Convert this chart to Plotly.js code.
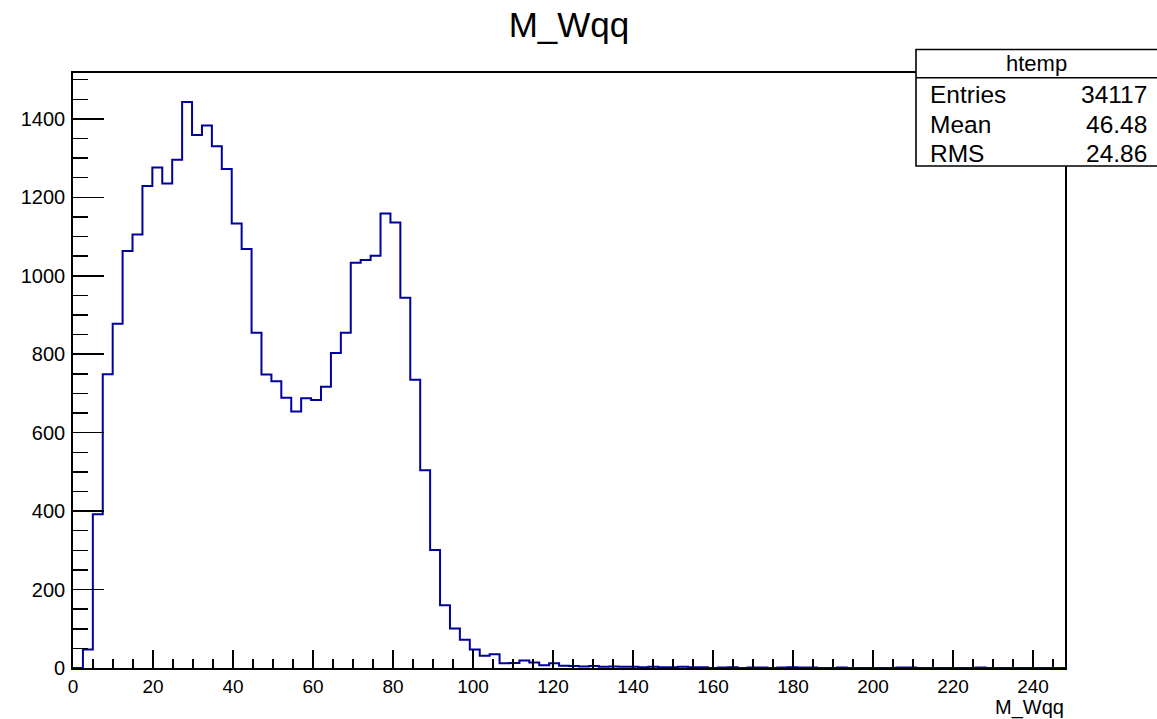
<!DOCTYPE html>
<html><head><meta charset="utf-8">
<script src="https://cdn.plot.ly/plotly-3.0.1.min.js"></script>
<style>html,body{margin:0;padding:0;background:#fff}#chart{width:1157px;height:719px}</style>
</head><body><div id="chart"></div>
<script>
// Histogram bin contents (100 bins from xMin to xMax)
const binCounts = [
  0, 47, 392, 749, 878, 1063, 1105, 1229, 1276, 1235,
  1296, 1443, 1359, 1383, 1330, 1272, 1133, 1068, 855, 748,
  731, 689, 654, 688, 683, 717, 803, 855, 1033, 1040,
  1051, 1159, 1136, 944, 735, 504, 301, 160, 101, 72,
  47, 31, 35, 12, 13, 19, 14, 7, 12, 6,
  5, 4, 5, 3, 4, 3, 3, 2, 3, 2,
  2, 3, 2, 2, 0, 1, 2, 0, 1, 1,
  0, 1, 2, 1, 1, 0, 0, 1, 0, 0,
  0, 0, 0, 1, 1, 0, 0, 0, 0, 0,
  0, 1, 0, 0, 0, 0, 0, 0, 0, 0
];
const xMin = 0, xMax = 248;
const yMax = 1517;
const chartTitle = 'M_Wqq';
const xAxisTitle = 'M_Wqq';
const statsTitle = 'htemp';
const statsLabels = ['Entries', 'Mean', 'RMS'];
const statsValues = ['34117', '46.48', '24.86'];
const xTickVals = [0, 20, 40, 60, 80, 100, 120, 140, 160, 180, 200, 220, 240];
const yTickVals = [0, 200, 400, 600, 800, 1000, 1200, 1400];

const nBins = binCounts.length;
const w = (xMax - xMin) / nBins;
const xs = [], ys = [];
for (let i = 0; i < nBins; i++) { xs.push(xMin + i * w); ys.push(binCounts[i]); }
xs.push(xMax); ys.push(binCounts[nBins - 1]);

const W = 1157, H = 719;
const M = {l: 73, r: 92, t: 73, b: 51};
const pw = W - M.l - M.r, ph = H - M.t - M.b;
const px = x => (x - M.l) / pw;
const py = y => (H - M.b - y) / ph;

const FONT = 'Liberation Sans, Arial, Helvetica, sans-serif';

const trace = {
  type: 'scatter', mode: 'lines', x: xs, y: ys,
  line: {shape: 'hv', color: '#00009c', width: 2},
  hoverinfo: 'x+y', showlegend: false
};

const shapes = [
  {type: 'rect', xref: 'paper', yref: 'paper', x0: px(916), x1: px(1170), y0: py(166), y1: py(49.5),
   fillcolor: '#ffffff', line: {color: '#000', width: 1.6}, layer: 'above'},
  {type: 'line', xref: 'paper', yref: 'paper', x0: px(916), x1: px(1170), y0: py(77.7), y1: py(77.7),
   line: {color: '#000', width: 1.6}, layer: 'above'}
];

const annotations = [
  {xref: 'paper', yref: 'paper', x: px(1036), y: py(63.5), text: statsTitle, showarrow: false,
   xanchor: 'center', yanchor: 'middle', font: {family: FONT, size: 22, color: '#000'}},
  {xref: 'paper', yref: 'paper', x: 1, y: py(707), text: xAxisTitle, showarrow: false, borderpad: 0,
   xanchor: 'right', yanchor: 'middle', font: {family: FONT, size: 20, color: '#000'}}
];
const rowY = [95, 124, 153];
statsLabels.forEach((lab, i) => {
  annotations.push({xref: 'paper', yref: 'paper', x: px(928), y: py(rowY[i]), text: lab, showarrow: false,
    xanchor: 'left', yanchor: 'middle', font: {family: FONT, size: 24.5, color: '#000'}});
  annotations.push({xref: 'paper', yref: 'paper', x: px(1149), y: py(rowY[i]), text: statsValues[i], showarrow: false,
    xanchor: 'right', yanchor: 'middle', font: {family: FONT, size: 24.5, color: '#000'}});
});

const layout = {
  width: W, height: H,
  margin: M,
  paper_bgcolor: '#fff', plot_bgcolor: '#fff',
  title: {text: chartTitle, x: 0.5, xref: 'paper', xanchor: 'center', y: 1 - 25 / H, yref: 'container', yanchor: 'middle',
          font: {family: FONT, size: 35, color: '#000'}},
  xaxis: {
    range: [xMin, xMax], tickvals: xTickVals, ticktext: xTickVals.map(String),
    ticks: 'inside', ticklen: 18, tickwidth: 1.5, tickcolor: '#000',
    minor: {dtick: 5, tick0: 0, ticks: 'inside', ticklen: 9, tickwidth: 1.5, tickcolor: '#000', showgrid: false},
    showline: true, mirror: true, linecolor: '#000', linewidth: 1.8,
    showgrid: false, zeroline: false, layer: 'above traces',
    tickfont: {family: FONT, size: 19, color: '#000'}
  },
  yaxis: {
    range: [0, yMax], tickvals: yTickVals, ticktext: yTickVals.map(String),
    ticks: 'inside', ticklen: 31, tickwidth: 1.5, tickcolor: '#000',
    minor: {dtick: 50, tick0: 0, ticks: 'inside', ticklen: 15, tickwidth: 1.5, tickcolor: '#000', showgrid: false},
    showline: true, mirror: true, linecolor: '#000', linewidth: 1.8,
    showgrid: false, zeroline: false, layer: 'above traces',
    ticklabelstandoff: 2,
    tickfont: {family: FONT, size: 20, color: '#000'}
  },
  shapes: shapes,
  annotations: annotations
};

Plotly.newPlot('chart', [trace], layout, {displayModeBar: false, staticPlot: true});
</script>
</body></html>
